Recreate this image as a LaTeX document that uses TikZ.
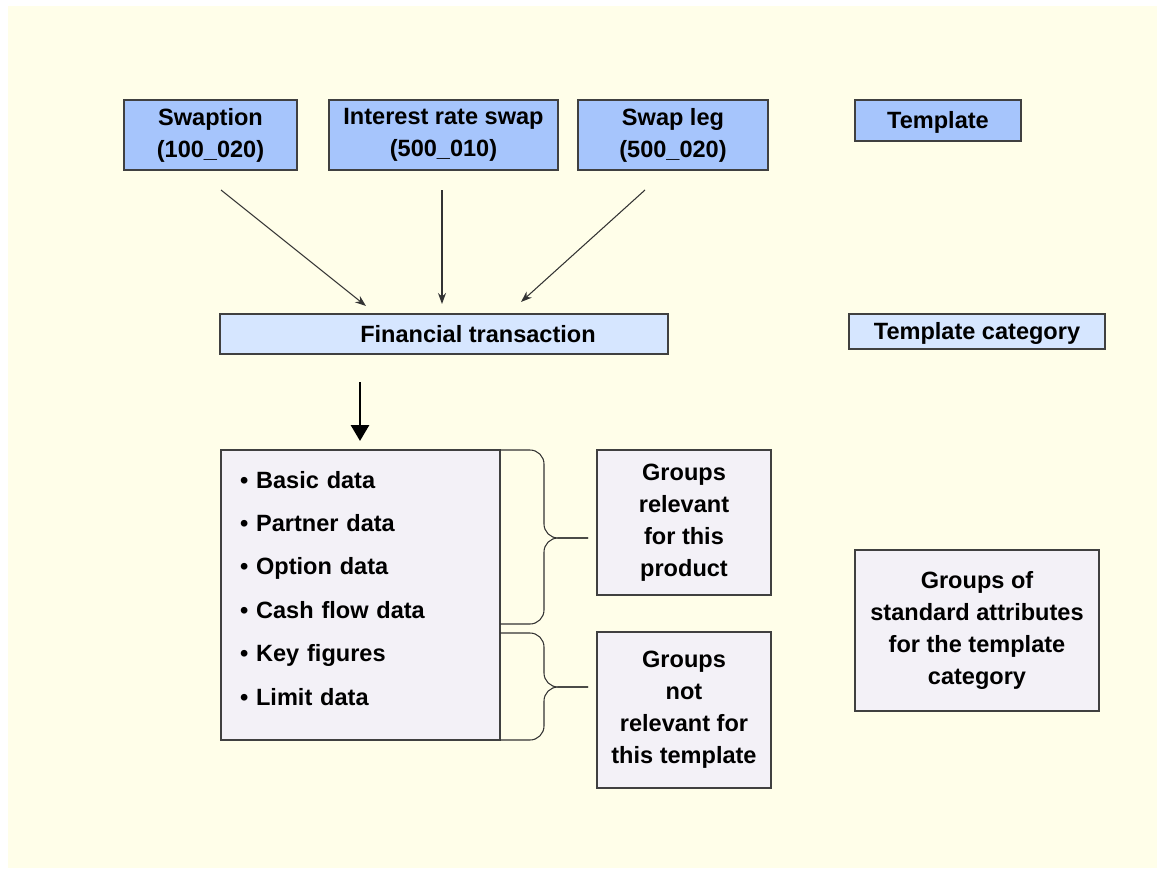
\documentclass[tikz,border=0pt]{standalone}
\usepackage{fontspec}
\setmainfont{Liberation Sans}
\usetikzlibrary{arrows.meta}
\definecolor{paper}{HTML}{FFFEE9}
\definecolor{tplblue}{HTML}{A6C5FC}
\definecolor{catblue}{HTML}{D6E6FF}
\definecolor{grpgray}{HTML}{F3F1F7}
\definecolor{edge}{HTML}{404040}
\tikzset{
  box/.style={draw=edge,line width=0.8pt,inner sep=0pt,outer sep=0pt,align=center,
    font=\fontsize{13.4}{18.2}\selectfont\bfseries},
  oneline/.style={text height=9.6pt,text depth=0pt},
  tplbox/.style={box,fill=tplblue},
  catbox/.style={box,fill=catblue},
  grpbox/.style={box,fill=grpgray},
  thin arrow/.style={draw=black!80,line width=0.6pt,-{Stealth[length=0.22cm,width=0.16cm]}},
  fat arrow/.style={draw=black,line width=1.7pt,-{Triangle[length=0.32cm,width=0.36cm]}},
  bracket/.style={draw=black!80,line width=0.6pt,rounded corners=0.28cm}
}
\begin{document}
\begin{tikzpicture}[x=0.02cm,y=-0.02cm]
            \useasboundingbox (0,0) rectangle (1157,869);
            \fill[paper] (8,6) rectangle (1157,868);
            % templates
            \draw (210.5,135) node[tplbox,minimum width=3.46cm,minimum height=1.4cm] (swaption) {Swaption\\(100\_020)};
            \draw (443.5,135) node[tplbox,minimum width=4.58cm,minimum height=1.4cm] (irs) {Interest rate swap\\(500\_010)};
            \draw (673,135) node[tplbox,minimum width=3.8cm,minimum height=1.4cm] (leg) {Swap leg\\(500\_020)};
            \draw (938,120.5) node[tplbox,oneline,minimum width=3.32cm,minimum height=0.82cm] (template) {Template};
            % template categories
            \draw (444,334) node[catbox,oneline,minimum width=8.96cm,minimum height=0.8cm] (fin) {\hspace*{1.36cm}Financial transaction};
            \draw (977,331.5) node[catbox,oneline,minimum width=5.12cm,minimum height=0.7cm] (category) {Template category};
            % groups
            \draw (360.5,595) node[grpbox,align=left,minimum width=5.58cm,minimum height=5.8cm,
              text width=4.82cm,inner xsep=0.38cm,font=\fontsize{13.4}{24.7}\selectfont\bfseries] (groups)
              {• Basic data\\• Partner data\\• Option data\\• Cash flow data\\• Key figures\\• Limit data\\[-0.59cm]\mbox{}};
            \draw (684,522.5) node[grpbox,minimum width=3.48cm,minimum height=2.9cm] (relevant) {Groups\\relevant\\for this\\product};
            \draw (684,710) node[grpbox,minimum width=3.48cm,minimum height=3.12cm] (notrelevant) {Groups\\not\\relevant for\\this template};
            \draw (977,630.5) node[grpbox,minimum width=4.88cm,minimum height=3.22cm] (standard) {Groups of\\standard attributes\\for the template\\category};
            % arrows
            \coordinate (s1) at (221,190);
            \coordinate (e1) at (366,306);
            \coordinate (s2) at (442,190);
            \coordinate (e2) at (442,304);
            \coordinate (s3) at (645,190);
            \coordinate (e3) at (521,302);
            \draw[thin arrow] (s1) -- (e1);
            \draw[thin arrow] (s2) -- (e2);
            \draw[thin arrow] (s3) -- (e3);
            \coordinate (s4) at (360,382);
            \coordinate (e4) at (360,441);
            \draw[fat arrow] (s4) -- (e4);
            % braces
            \coordinate (b1top) at (500,450);
            \coordinate (b1tip) at (588,538);
            \coordinate (b1bot) at (500,624);
            \coordinate (b2top) at (500,633);
            \coordinate (b2tip) at (588,687);
            \coordinate (b2bot) at (500,740);
            \draw[bracket] (b1top) -- ++(44,0) |- (b1tip);
            \draw[bracket] (b1bot) -- ++(44,0) |- (b1tip);
            \draw[bracket] (b2top) -- ++(44,0) |- (b2tip);
            \draw[bracket] (b2bot) -- ++(44,0) |- (b2tip);
         \end{tikzpicture}
\end{document}
